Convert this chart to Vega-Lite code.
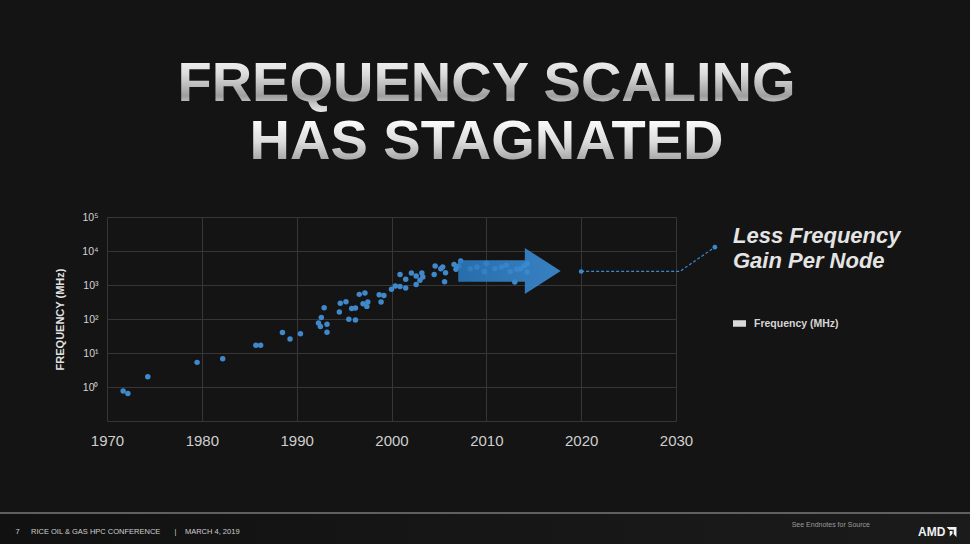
{
  "$schema": "https://vega.github.io/schema/vega-lite/v6.json",
  "width": 569,
  "height": 204,
  "autosize": {"type": "none"},
  "padding": {"left": 107, "top": 217, "right": 294, "bottom": 123},
  "background": "#141414",
  "config": {"view": {"stroke": null}, "font": "Liberation Sans"},
  "title": {
    "text": ["FREQUENCY SCALING", "HAS STAGNATED"],
    "font": "Liberation Sans",
    "fontSize": 56,
    "fontWeight": "bold",
    "color": {"value": {"gradient": "linear", "x1": 0, "y1": 0, "x2": 0, "y2": 1,
      "stops": [
        {"offset": 0, "color": "#ffffff"}, {"offset": 0.2, "color": "#dcdcdc"},
        {"offset": 0.38, "color": "#9e9e9e"}, {"offset": 0.45, "color": "#cacaca"},
        {"offset": 0.56, "color": "#ffffff"}, {"offset": 0.76, "color": "#dcdcdc"},
        {"offset": 0.93, "color": "#9e9e9e"}, {"offset": 1, "color": "#cacaca"}
      ]}},
    "lineHeight": 58,
    "anchor": "middle",
    "frame": "group",
    "dx": 95,
    "dy": 53,
    "baseline": "bottom",
    "offset": 38
  },
  "layer": [
    {
      "data": {"values": [{}]},
      "mark": {
        "type": "rect",
        "fill": {"gradient": "linear", "x1": 0, "y1": 0, "x2": 1, "y2": 0,
                 "stops": [{"offset": 0, "color": "#111111"}, {"offset": 1, "color": "#1b1b1b"}]}
      },
      "encoding": {
        "x": {"datum": 1958, "type": "quantitative"},
        "x2": {"datum": 2062},
        "y": {"datum": 0.0001968, "type": "quantitative"},
        "y2": {"datum": 0.000001}
      }
    },
    {
      "data": {"values": [
        {"year": 1971.7, "mhz": 0.76}, {"year": 1972.2, "mhz": 0.64}, {"year": 1974.3, "mhz": 2.0},
        {"year": 1979.5, "mhz": 5.3}, {"year": 1982.2, "mhz": 6.8}, {"year": 1985.7, "mhz": 17},
        {"year": 1986.2, "mhz": 17}, {"year": 1988.5, "mhz": 40}, {"year": 1989.3, "mhz": 26},
        {"year": 1990.4, "mhz": 37}, {"year": 1992.3, "mhz": 76}, {"year": 1992.5, "mhz": 60},
        {"year": 1992.6, "mhz": 110}, {"year": 1992.9, "mhz": 215}, {"year": 1993.2, "mhz": 70},
        {"year": 1993.2, "mhz": 41}, {"year": 1994.5, "mhz": 160}, {"year": 1994.6, "mhz": 290},
        {"year": 1995.2, "mhz": 320}, {"year": 1995.5, "mhz": 98}, {"year": 1995.8, "mhz": 205},
        {"year": 1996.2, "mhz": 210}, {"year": 1996.2, "mhz": 93}, {"year": 1996.6, "mhz": 530},
        {"year": 1997.2, "mhz": 580}, {"year": 1997.0, "mhz": 280}, {"year": 1997.4, "mhz": 235},
        {"year": 1997.5, "mhz": 315}, {"year": 1998.7, "mhz": 520}, {"year": 1998.9, "mhz": 315},
        {"year": 1999.2, "mhz": 490}, {"year": 2000.0, "mhz": 750}, {"year": 2000.4, "mhz": 930},
        {"year": 2000.9, "mhz": 910}, {"year": 2001.5, "mhz": 820}, {"year": 2000.9, "mhz": 2050},
        {"year": 2001.5, "mhz": 1470}, {"year": 2002.1, "mhz": 2250}, {"year": 2002.6, "mhz": 1830},
        {"year": 2002.6, "mhz": 1030}, {"year": 2003.0, "mhz": 1380}, {"year": 2003.2, "mhz": 2250},
        {"year": 2003.3, "mhz": 1730}, {"year": 2004.5, "mhz": 2050}, {"year": 2004.6, "mhz": 3600},
        {"year": 2005.2, "mhz": 3000}, {"year": 2005.4, "mhz": 3400}, {"year": 2005.7, "mhz": 2300},
        {"year": 2005.6, "mhz": 1250}, {"year": 2006.6, "mhz": 4000}, {"year": 2006.8, "mhz": 2900},
        {"year": 2007.1, "mhz": 3600}, {"year": 2007.3, "mhz": 5100}, {"year": 2008.3, "mhz": 3000},
        {"year": 2009.0, "mhz": 3400}, {"year": 2009.8, "mhz": 2500}, {"year": 2010.0, "mhz": 4300},
        {"year": 2010.9, "mhz": 3000}, {"year": 2011.6, "mhz": 3400}, {"year": 2012.1, "mhz": 3800},
        {"year": 2012.5, "mhz": 2500}, {"year": 2013.2, "mhz": 2900}, {"year": 2013.6, "mhz": 3000},
        {"year": 2014.0, "mhz": 3600}, {"year": 2014.3, "mhz": 4300}, {"year": 2014.3, "mhz": 2400},
        {"year": 2013.0, "mhz": 1230}
      ]},
      "mark": {"type": "circle", "size": 30, "opacity": 1},
      "encoding": {
        "x": {
          "field": "year", "type": "quantitative",
          "scale": {"domain": [1970, 2030], "nice": false, "zero": false},
          "axis": {
            "values": [1970, 1980, 1990, 2000, 2010, 2020, 2030],
            "format": "d", "title": null, "grid": true, "gridColor": "#363636",
            "domain": false, "ticks": false, "labelColor": "#cfcfcf",
            "labelFontSize": 15, "labelPadding": 12, "labelFlush": false, "labelOverlap": false
          }
        },
        "y": {
          "field": "mhz", "type": "quantitative",
          "scale": {"type": "log", "domain": [0.1, 100000], "nice": false},
          "axis": {
            "values": [0.1, 1, 10, 100, 1000, 10000, 100000],
            "labelExpr": "datum.value < 0.5 ? '' : datum.value < 5 ? '10⁰' : datum.value < 50 ? '10¹' : datum.value < 500 ? '10²' : datum.value < 5000 ? '10³' : datum.value < 50000 ? '10⁴' : '10⁵'",
            "grid": true, "gridColor": "#363636", "domain": false, "ticks": false,
            "labelColor": "#d4d4d4", "labelFontSize": 10.5, "labelPadding": 9,
            "labelFlush": false, "labelOverlap": false,
            "title": "FREQUENCY (MHz)", "titleColor": "#e2e2e2", "titleFontSize": 11,
            "titleFontWeight": "bold", "titlePadding": 16
          }
        },
        "color": {
          "datum": "Frequency (MHz)", "type": "nominal",
          "scale": {"range": ["#3f88cc"]},
          "legend": {
            "orient": "none", "legendX": 626, "legendY": 9, "padding": 0,
            "title": ["Less Frequency", "Gain Per Node"],
            "titleFontSize": 22, "titleFontWeight": "bold", "titleFontStyle": "italic",
            "titleColor": "#e4e4e4", "titleLineHeight": 25, "titlePadding": 42, "titleLimit": 400,
            "labelFontSize": 10.5, "labelFontWeight": "bold", "labelColor": "#d6d6d6", "labelOffset": 6,
            "symbolType": "M-0.75,-0.25H0.75V0.25H-0.75Z", "symbolSize": 169, "symbolOffset": -2,
            "symbolStrokeColor": "#d9d9d9", "symbolStrokeWidth": 3.25,
            "encode": {"symbols": {"fillOpacity": {"value": 0}, "stroke": {"value": "#d9d9d9"}, "strokeWidth": {"value": 3.25}, "opacity": {"value": 1}}}
          }
        }
      }
    },
    {
      "data": {"values": [{}]},
      "mark": {
        "type": "point", "filled": true,
        "shape": "M-1,-0.21L0.3,-0.21L0.3,-0.45L1,0L0.3,0.45L0.3,0.21L-1,0.21Z",
        "size": 10486, "strokeWidth": 0, "opacity": 0.88,
        "fill": {"gradient": "linear", "x1": 0, "y1": 0, "x2": 1, "y2": 0,
                 "stops": [{"offset": 0, "color": "#2c7ac0"}, {"offset": 1, "color": "#3d90d8"}]}
      },
      "encoding": {
        "x": {"datum": 2012.44, "type": "quantitative"},
        "y": {"datum": 2582, "type": "quantitative"}
      }
    },
    {
      "data": {"values": [
        {"year": 2020, "mhz": 2500}, {"year": 2030.4, "mhz": 2500}, {"year": 2034.1, "mhz": 13000}
      ]},
      "layer": [
        {
          "mark": {"type": "line", "color": "#3a8ad0", "strokeWidth": 1.2, "strokeDash": [3, 2]},
          "encoding": {
            "x": {"field": "year", "type": "quantitative"},
            "y": {"field": "mhz", "type": "quantitative"}
          }
        },
        {
          "transform": [{"filter": "datum.year < 2025 || datum.year > 2033"}],
          "mark": {"type": "circle", "size": 22, "color": "#3a8ad0", "opacity": 1},
          "encoding": {
            "x": {"field": "year", "type": "quantitative"},
            "y": {"field": "mhz", "type": "quantitative"}
          }
        }
      ]
    },
    {
      "data": {"values": [{}]},
      "mark": {"type": "rule", "color": "#7a7a7a", "strokeWidth": 1.5},
      "encoding": {
        "x": {"datum": 1958, "type": "quantitative"},
        "x2": {"datum": 2062},
        "y": {"datum": 0.0001968, "type": "quantitative"}
      }
    },
    {
      "data": {"values": [{}]},
      "mark": {"type": "text", "align": "left", "baseline": "middle", "fontSize": 7.5, "color": "#cfcfcf"},
      "encoding": {
        "x": {"datum": 1960.35, "type": "quantitative"},
        "y": {"datum": 0.0000543, "type": "quantitative"},
        "text": {"value": "7"}
      }
    },
    {
      "data": {"values": [{}]},
      "mark": {"type": "text", "align": "left", "baseline": "middle", "fontSize": 7.5, "color": "#cfcfcf"},
      "encoding": {
        "x": {"datum": 1961.99, "type": "quantitative"},
        "y": {"datum": 0.0000543, "type": "quantitative"},
        "text": {"value": "RICE OIL & GAS HPC CONFERENCE"}
      }
    },
    {
      "data": {"values": [{}]},
      "mark": {"type": "text", "align": "center", "baseline": "middle", "fontSize": 7.5, "color": "#cfcfcf"},
      "encoding": {
        "x": {"datum": 1977.22, "type": "quantitative"},
        "y": {"datum": 0.0000543, "type": "quantitative"},
        "text": {"value": "|"}
      }
    },
    {
      "data": {"values": [{}]},
      "mark": {"type": "text", "align": "left", "baseline": "middle", "fontSize": 7.5, "color": "#cfcfcf"},
      "encoding": {
        "x": {"datum": 1978.22, "type": "quantitative"},
        "y": {"datum": 0.0000543, "type": "quantitative"},
        "text": {"value": "MARCH 4, 2019"}
      }
    },
    {
      "data": {"values": [{}]},
      "mark": {"type": "text", "align": "left", "baseline": "middle", "fontSize": 7, "color": "#9a9a9a"},
      "encoding": {
        "x": {"datum": 2042.2, "type": "quantitative"},
        "y": {"datum": 0.0000873, "type": "quantitative"},
        "text": {"value": "See Endnotes for Source"}
      }
    },
    {
      "data": {"values": [{}]},
      "mark": {"type": "text", "align": "left", "baseline": "middle", "fontSize": 12, "fontWeight": "bold", "color": "#f2f2f2"},
      "encoding": {
        "x": {"datum": 2055.52, "type": "quantitative"},
        "y": {"datum": 0.0000543, "type": "quantitative"},
        "text": {"value": "AMD"}
      }
    },
    {
      "data": {"values": [{}]},
      "mark": {
        "type": "point", "filled": true, "color": "#f2f2f2", "strokeWidth": 0, "opacity": 1, "size": 100,
        "shape": "M-1,-1H1V1L0.45,0.45V-0.45H-0.45Z M-0.35,-0.2H0.2V0.35L-0.35,0.9Z"
      },
      "encoding": {
        "x": {"datum": 2059.05, "type": "quantitative"},
        "y": {"datum": 0.0000543, "type": "quantitative"}
      }
    }
  ]
}
